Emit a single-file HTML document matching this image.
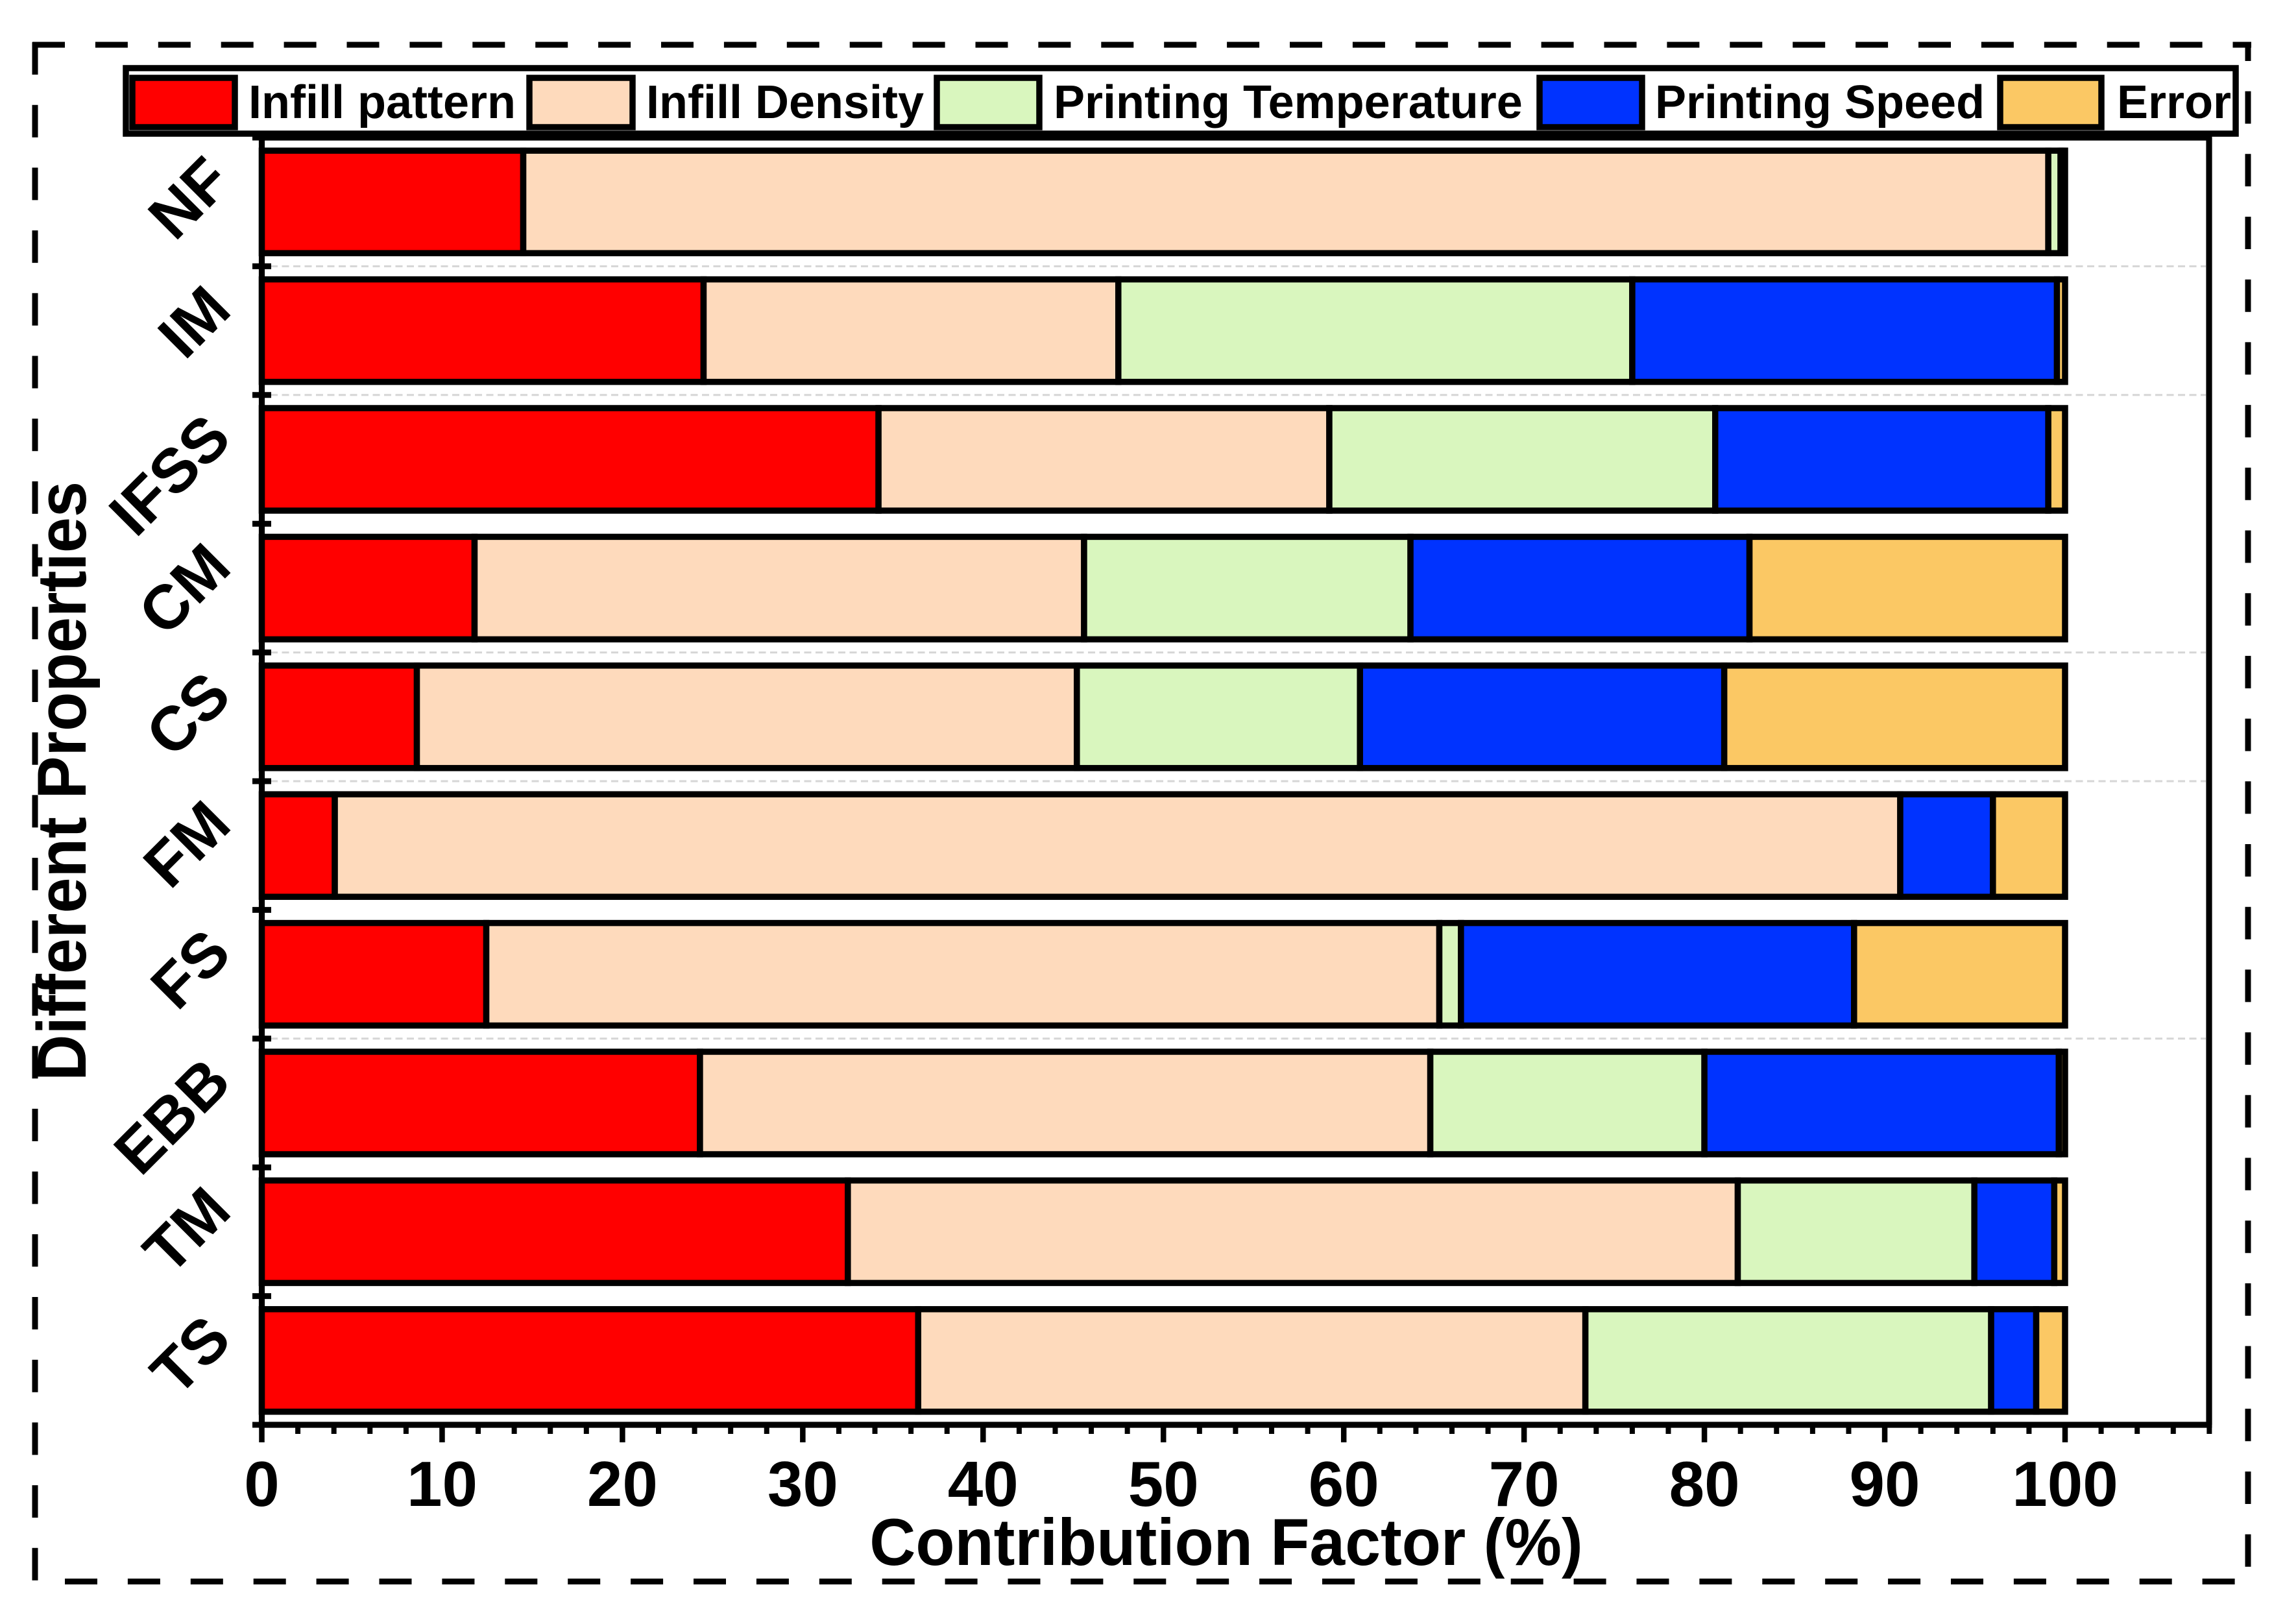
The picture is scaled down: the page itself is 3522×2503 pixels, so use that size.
<!DOCTYPE html>
<html lang="en">
<head>
<meta charset="utf-8">
<title>Contribution Factor by Property</title>
<style>
html,body{margin:0;padding:0;background:#fff;}
svg{display:block;}
text{font-family:"Liberation Sans",Arial,sans-serif;font-weight:bold;fill:#000;}
</style>
</head>
<body>
<svg id="chart" xmlns="http://www.w3.org/2000/svg" width="3522" height="2503" viewBox="0 0 3522 2503">
  <rect x="0" y="0" width="3522" height="2503" fill="#fff"/>
  <g id="frame" stroke="#000" stroke-width="9" fill="none">
    <line x1="50" y1="69" x2="3470" y2="69" stroke-dasharray="50 46.9"/>
    <line x1="54" y1="65" x2="54" y2="2437" stroke-dasharray="50 46.7"/>
    <line x1="3465" y1="65" x2="3465" y2="2437" stroke-dasharray="29 46.6 50 46.7 50 46.7 50 46.7 50 46.7 50 46.7 50 46.7 50 46.7 50 46.7 50 46.7 50 46.7 50 46.7 50 46.7 50 46.7 50 46.7 50 46.7 50 46.7 50 46.7 50 46.7 50 46.7 50 46.7 50 46.7 50 46.7 50 46.7 50 46.7"/>
    <line x1="100" y1="2437.5" x2="3445" y2="2437.5" stroke-dasharray="50 46.9"/>
  </g>
  <g id="gridlines"></g>
  <g id="bars"></g>
  <g id="axes"></g>
  <g id="legend">
    <rect x="194" y="105" width="3252" height="101" fill="#fff" stroke="#000" stroke-width="9.5"/>
    <rect x="204" y="120" width="158" height="76" fill="#ff0000" stroke="#000" stroke-width="9.5"/>
    <text x="383" y="182" font-size="72">Infill pattern</text>
    <rect x="816" y="120" width="159" height="76" fill="#fedabc" stroke="#000" stroke-width="9.5"/>
    <text x="996" y="182" font-size="72">Infill Density</text>
    <rect x="1444" y="120" width="158" height="76" fill="#d9f6be" stroke="#000" stroke-width="9.5"/>
    <text x="1624" y="182" font-size="72">Printing Temperature</text>
    <rect x="2373" y="120" width="158" height="76" fill="#0033ff" stroke="#000" stroke-width="9.5"/>
    <text x="2551" y="182" font-size="72">Printing Speed</text>
    <rect x="3083" y="120" width="156" height="76" fill="#fbc864" stroke="#000" stroke-width="9.5"/>
    <text x="3263" y="182" font-size="72">Error</text>
  </g>
  <text transform="translate(1890 2412) scale(1 1.04)" font-size="98.5" text-anchor="middle">Contribution Factor (%)</text>
  <text transform="translate(132 1666) rotate(-90) scale(1 1.08)" font-size="99">Different Properties</text>
</svg>
<script>
const categories = ["TS","TM","EBB","FS","FM","CS","CM","IFSS","IM","NF"];
const infillPattern = [36.4,32.5,24.3,12.45,4.05,8.6,11.8,34.2,24.5,14.5];
const infillDensity = [37.0,49.35,40.5,52.85,86.81,36.6,33.8,25.0,23.0,84.57];
const printingTemperature = [22.5,13.12,15.2,1.2,0,15.7,18.1,21.4,28.5,0.68];
const printingSpeed = [2.5,4.43,19.65,21.8,5.14,20.2,18.8,18.47,23.55,0.1];
const errorShare = [1.6,0.6,0.35,11.7,4.0,18.9,17.5,0.93,0.45,0.15];
const xMajorTicks = [0,10,20,30,40,50,60,70,80,90,100];
const xMinorTicks = [2,4,6,8,12,14,16,18,22,24,26,28,32,34,36,38,42,44,46,48,52,54,56,58,62,64,66,68,72,74,76,78,82,84,86,88,92,94,96,98,102,104,106,108];
const gridlineSlots = [3,5,6,8,9];

const SVGNS = "http://www.w3.org/2000/svg";
const seriesList = [
  {key:"infill-pattern", values:infillPattern, color:"#ff0000"},
  {key:"infill-density", values:infillDensity, color:"#fedabc"},
  {key:"printing-temperature", values:printingTemperature, color:"#d9f6be"},
  {key:"printing-speed", values:printingSpeed, color:"#0033ff"},
  {key:"error", values:errorShare, color:"#fbc864"}
];
function xScale(v){ return 403.5 + v * 27.795; }
function slotEdge(k){ return 2196 - 198.4 * k; }
function bandCenter(i){ return slotEdge(i + 0.5); }
function mk(tag, attrs){
  const el = document.createElementNS(SVGNS, tag);
  for (const k in attrs) el.setAttribute(k, attrs[k]);
  return el;
}
const gridG = document.getElementById("gridlines");
const barsG = document.getElementById("bars");
const axesG = document.getElementById("axes");

gridlineSlots.forEach(function(k){
  const line = mk("line",{x1:417,x2:3400,y1:slotEdge(k),y2:slotEdge(k),stroke:"#d6d6d6","stroke-width":3,"stroke-dasharray":"11 6.5"});
  
  
  gridG.appendChild(line);
});

categories.forEach(function(cat, i){
  let cum = 0;
  const cy = bandCenter(i);
  seriesList.forEach(function(s){
    const v = s.values[i];
    const rect = mk("rect",{x:xScale(cum),y:cy-79,width:Math.max(0,xScale(cum+v)-xScale(cum)),height:158,fill:s.color,stroke:"#000","stroke-width":9.5});
    
    
    barsG.appendChild(rect);
    cum += v;
  });
  const label = mk("text",{"text-anchor":"end","font-size":96,transform:"translate(360 "+(cy-28)+") rotate(-45)"});
  label.textContent = cat;
  
  
  axesG.appendChild(label);
});

const axisLines = [
  [403.5,212,403.5,2196],
  [3405,212,3405,2196],
  [399,212,3409.5,212],
  [399,2196,3409.5,2196]
];
axisLines.forEach(function(a){
  const line = mk("line",{x1:a[0],y1:a[1],x2:a[2],y2:a[3],stroke:"#000","stroke-width":9.2});
  
  
  axesG.appendChild(line);
});
for (let k = 0; k <= categories.length; k++) {
  const tick = mk("line",{x1:389,x2:418,y1:slotEdge(k),y2:slotEdge(k),stroke:"#000","stroke-width":9});
  
  
  axesG.appendChild(tick);
}
xMajorTicks.forEach(function(v){
  const tick = mk("line",{x1:xScale(v),x2:xScale(v),y1:2196,y2:2223,stroke:"#000","stroke-width":8.5});
  
  
  axesG.appendChild(tick);
  const label = mk("text",{x:xScale(v),y:2321,"text-anchor":"middle","font-size":98});
  label.textContent = String(v);
  
  
  axesG.appendChild(label);
});
xMinorTicks.forEach(function(v){
  const tick = mk("line",{x1:xScale(v),x2:xScale(v),y1:2196,y2:2210,stroke:"#000","stroke-width":8});
  
  
  axesG.appendChild(tick);
});
</script>
</body>
</html>
